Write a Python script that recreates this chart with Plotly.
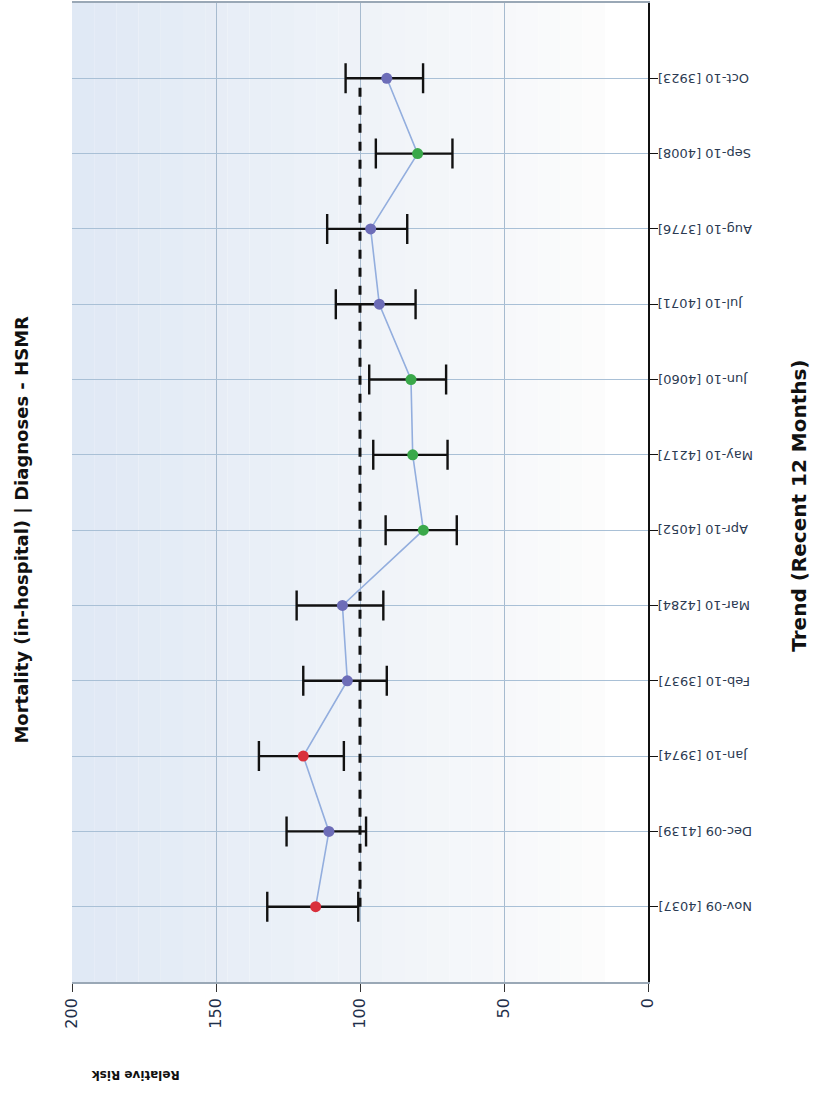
import plotly.graph_objects as go

months = ["Nov-09", "Dec-09", "Jan-10", "Feb-10", "Mar-10", "Apr-10",
          "May-10", "Jun-10", "Jul-10", "Aug-10", "Sep-10", "Oct-10"]
cases = [4037, 4139, 3974, 3937, 4284, 4052, 4217, 4060, 4071, 3776, 4008, 3923]
risk = [115.4, 110.8, 119.7, 104.4, 106.1, 78.0, 81.7, 82.3, 93.3, 96.3, 80.0, 90.7]
upper = [132.2, 125.5, 135.1, 119.7, 122.0, 91.1, 95.4, 96.8, 108.4, 111.4, 94.5, 105.0]
lower = [100.6, 97.9, 105.6, 90.7, 91.9, 66.4, 69.6, 70.1, 80.7, 83.6, 67.9, 78.1]
benchmark = [100] * len(months)
value_ticks = [200, 150, 100, 50, 0]

labels = [f"{m} [{c}]" for m, c in zip(months, cases)]

def col(lo, hi):
    if lo > 100:
        return "#d9303c"
    if hi < 100:
        return "#3aa84a"
    return "#6d6db8"

colors = [col(lo, hi) for lo, hi in zip(lower, upper)]

fig = go.Figure()

# background gradient bands (style only)
n = 24
c0 = (224, 233, 245)
c1 = (252, 252, 252)
for i in range(n):
    t = i / (n - 1)
    r = int(c0[0] + (c1[0] - c0[0]) * t)
    g = int(c0[1] + (c1[1] - c0[1]) * t)
    b = int(c0[2] + (c1[2] - c0[2]) * t)
    x0 = 200 - i * (185 / n)
    x1 = 200 - (i + 1) * (185 / n)
    fig.add_shape(type="rect", xref="x", yref="paper", x0=x0, x1=x1, y0=0, y1=1,
                  fillcolor=f"rgb({r},{g},{b})", line_width=0, layer="below")

fig.add_trace(go.Scatter(
    x=benchmark, y=labels, mode="lines",
    line=dict(color="#111111", width=3, dash="dash"),
    hoverinfo="skip", showlegend=False))

fig.add_trace(go.Scatter(
    x=risk, y=labels, mode="lines+markers",
    line=dict(color="#93aede", width=1.6),
    marker=dict(color=colors, size=11, symbol="circle"),
    error_x=dict(type="data", symmetric=False,
                 array=[u - v for u, v in zip(upper, risk)],
                 arrayminus=[v - l for v, l in zip(risk, lower)],
                 color="#111111", thickness=2.4, width=15),
    showlegend=False))

annotations = [
    dict(text=lab, textangle=180, xref="paper", yref="y", x=1, y=lab,
         xshift=8, xanchor="left", yanchor="middle", showarrow=False,
         font=dict(size=13, color="#2b3a52"))
    for lab in labels
]
annotations += [
    dict(text="<b>Mortality (in-hospital) | Diagnoses - HSMR</b>", textangle=-90,
         xref="paper", yref="paper", x=-0.087, y=0.462, showarrow=False,
         font=dict(size=18, color="#111111"), xanchor="center", yanchor="middle"),
    dict(text="<b>Trend (Recent 12 Months)</b>", textangle=-90,
         xref="paper", yref="paper", x=1.263, y=0.487, showarrow=False,
         font=dict(size=20, color="#111111"), xanchor="center", yanchor="middle"),
    dict(text="<b>Relative Risk</b>", textangle=180,
         xref="paper", yref="paper", x=0.11, y=-0.095, showarrow=False,
         font=dict(size=12, color="#111111"), xanchor="center", yanchor="middle"),
]

fig.update_layout(
    width=816, height=1102,
    margin=dict(l=72, r=168, t=3, b=120, autoexpand=False),
    paper_bgcolor="white", plot_bgcolor="white",
    font=dict(family="DejaVu Sans", color="#2b3a52"),
    xaxis=dict(range=[200, 0], tickvals=value_ticks, ticktext=[str(v) for v in value_ticks],
               tickangle=-90, tickfont=dict(size=16, color="#1f2f4a"),
               ticks="outside", ticklen=8, tickcolor="#333333",
               showgrid=True, gridcolor="#a7bbcf", gridwidth=1,
               showline=True, linecolor="#9aa8b6", linewidth=1.5, mirror=True,
               zeroline=False, automargin=False),
    yaxis=dict(type="category", categoryorder="array", categoryarray=labels,
               range=[-1, 12], side="right", showticklabels=False,
               ticks="outside", ticklen=8, tickcolor="#111111",
               showgrid=True, gridcolor="#a9c0d6", gridwidth=1.2,
               showline=True, linecolor="#111111", linewidth=2, automargin=False),
    annotations=annotations,
)

fig.write_html("out.html", config={"displayModeBar": False},
               post_script="document.body.style.margin='0';")
